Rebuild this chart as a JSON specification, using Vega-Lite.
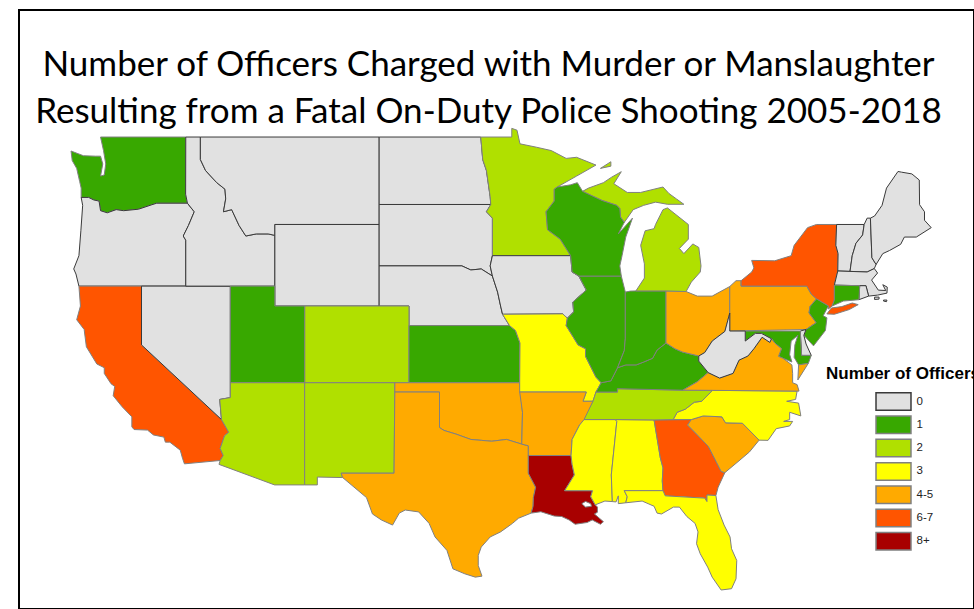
{"$schema":"https://vega.github.io/schema/vega-lite/v6.json","width":955,"height":599,"autosize":{"type":"none"},"padding":{"left":19,"top":10,"right":0,"bottom":0},"background":"white","view":{"stroke":"#000000","strokeWidth":2,"fill":"white"},
"title":{"text":["Number of Officers Charged with Murder or Manslaughter","Resulting from a Fatal On-Duty Police Shooting 2005-2018"],"font":"Lato","fontSize":35,"fontWeight":"normal","color":"#000000","lineHeight":47,"anchor":"middle","frame":"group","orient":"top","offset":0,"dx":-8,"dy":119.5},
"projection":{"type":"mercator","scale":853.7,"translate":[1910.5,966.9],"precision":0},
"mark":{"type":"geoshape","strokeWidth":1},
"encoding":{"color":{"field":"properties.officers","type":"nominal","scale":{"domain":["0","1","2","3","4-5","6-7","8+"],"range":["#E1E1E1","#38A800","#B0E000","#FFFF00","#FFAA00","#FF5500","#A80000"]},"legend":{"title":"Number of Officers","orient":"none","legendX":807,"legendY":356,"titleFont":"Liberation Sans","titleFontSize":17,"titleFontWeight":"bold","titleColor":"#000000","titleLimit":300,"titlePadding":9,"labelFont":"Liberation Sans","labelFontSize":11.5,"labelColor":"#222222","symbolType":"M-2,-1H2V1H-2Z","symbolSize":306,"symbolOffset":58,"labelOffset":13.5,"rowPadding":-1.7,"symbolStrokeWidth":1.5,"symbolOpacity":1}},"stroke":{"field":"properties.officers","type":"nominal","scale":{"domain":["0","1","2","3","4-5","6-7","8+"],"range":["#3a3a3a","#808080","#808080","#808080","#808080","#808080","#808080"]},"legend":{"title":"Number of Officers"}}},
"data":{"values":[
{"type":"Feature","properties":{"name":"Washington","officers":"1"},"geometry":{"type":"Polygon","coordinates":[[[-124.73,48.38],[-123.9,48.17],[-123.1,48.15],[-122.75,48.15],[-122.6,47.8],[-122.75,47.25],[-122.5,47.3],[-122.4,47.8],[-122.55,48.4],[-122.75,49],[-117.03,49],[-117.04,46.42],[-116.92,46],[-118.98,46],[-119.3,45.93],[-120.2,45.72],[-121.2,45.65],[-121.7,45.7],[-122.3,45.55],[-122.75,45.65],[-122.85,46.1],[-123.2,46.15],[-123.55,46.27],[-124.05,46.27],[-124.05,46.7],[-124.15,47],[-124.35,47.6],[-124.65,47.95],[-124.73,48.38]]]}},
{"type":"Feature","properties":{"name":"Oregon","officers":"0"},"geometry":{"type":"Polygon","coordinates":[[[-124.05,46.27],[-123.55,46.27],[-123.2,46.15],[-122.85,46.1],[-122.75,45.65],[-122.3,45.55],[-121.7,45.7],[-121.2,45.65],[-120.2,45.72],[-119.3,45.93],[-118.98,46],[-116.92,46],[-116.46,45.6],[-116.85,44.95],[-117.2,44.45],[-117.03,44.25],[-117.03,42],[-124.2,42],[-124.4,42.6],[-124.55,42.85],[-124.2,43.5],[-124.07,44.7],[-123.95,45.9],[-124.05,46.27]]]}},
{"type":"Feature","properties":{"name":"California","officers":"6-7"},"geometry":{"type":"Polygon","coordinates":[[[-124.2,42],[-120,42],[-120,39],[-114.63,35],[-114.15,34.3],[-114.43,34.1],[-114.72,33.4],[-114.52,33],[-114.72,32.72],[-117.12,32.53],[-117.25,32.85],[-117.4,33.3],[-118.1,33.75],[-118.4,33.75],[-118.5,34.03],[-119.2,34.15],[-119.6,34.42],[-120.5,34.45],[-120.65,34.6],[-120.65,35.15],[-121.3,35.7],[-121.9,36.3],[-121.8,36.8],[-122.05,36.95],[-122.5,37.5],[-122.5,37.8],[-123,38],[-123.7,38.9],[-123.85,39.8],[-124.35,40.3],[-124.1,41],[-124.2,42]]]}},
{"type":"Feature","properties":{"name":"Nevada","officers":"0"},"geometry":{"type":"Polygon","coordinates":[[[-120,42],[-114.04,42],[-114.04,36.2],[-114.75,36.1],[-114.63,35],[-120,39],[-120,42]]]}},
{"type":"Feature","properties":{"name":"Idaho","officers":"0"},"geometry":{"type":"Polygon","coordinates":[[[-117.03,49],[-116.05,49],[-116.05,48],[-115.7,47.5],[-114.95,46.95],[-114.4,46.65],[-114.35,46.2],[-114.5,45.6],[-113.95,45.7],[-113.45,44.95],[-113,44.45],[-112.3,44.55],[-111.5,44.55],[-111.05,44.48],[-111.05,42],[-117.03,42],[-117.03,44.25],[-117.2,44.45],[-116.85,44.95],[-116.46,45.6],[-116.92,46],[-117.04,46.42],[-117.03,49]]]}},
{"type":"Feature","properties":{"name":"Montana","officers":"0"},"geometry":{"type":"Polygon","coordinates":[[[-116.05,49],[-104.05,49],[-104.05,45],[-111.05,45],[-111.05,44.48],[-111.5,44.55],[-112.3,44.55],[-113,44.45],[-113.45,44.95],[-113.95,45.7],[-114.5,45.6],[-114.35,46.2],[-114.4,46.65],[-114.95,46.95],[-115.7,47.5],[-116.05,48],[-116.05,49]]]}},
{"type":"Feature","properties":{"name":"Wyoming","officers":"0"},"geometry":{"type":"Polygon","coordinates":[[[-111.05,45],[-104.05,45],[-104.05,41],[-111.05,41],[-111.05,45]]]}},
{"type":"Feature","properties":{"name":"North Dakota","officers":"0"},"geometry":{"type":"Polygon","coordinates":[[[-104.05,49],[-97.23,49],[-97.1,48],[-96.85,47.5],[-96.6,46.3],[-96.56,45.94],[-104.05,45.94],[-104.05,49]]]}},
{"type":"Feature","properties":{"name":"South Dakota","officers":"0"},"geometry":{"type":"Polygon","coordinates":[[[-104.05,45.94],[-96.56,45.94],[-96.85,45.6],[-96.45,45.3],[-96.45,43.5],[-96.6,43],[-96.45,42.5],[-97.2,42.85],[-97.9,42.8],[-98.5,43],[-104.05,43],[-104.05,45.94]]]}},
{"type":"Feature","properties":{"name":"Nebraska","officers":"0"},"geometry":{"type":"Polygon","coordinates":[[[-104.05,43],[-98.5,43],[-97.9,42.8],[-97.2,42.85],[-96.45,42.5],[-96.1,41.7],[-95.9,41],[-95.77,40.58],[-95.3,40],[-102.05,40],[-102.05,41],[-104.05,41],[-104.05,43]]]}},
{"type":"Feature","properties":{"name":"Colorado","officers":"2"},"geometry":{"type":"Polygon","coordinates":[[[-109.05,41],[-102.05,41],[-102.05,37],[-109.05,37],[-109.05,41]]]}},
{"type":"Feature","properties":{"name":"Utah","officers":"1"},"geometry":{"type":"Polygon","coordinates":[[[-114.04,42],[-111.05,42],[-111.05,41],[-109.05,41],[-109.05,37],[-114.04,37],[-114.04,42]]]}},
{"type":"Feature","properties":{"name":"Arizona","officers":"2"},"geometry":{"type":"Polygon","coordinates":[[[-114.04,37],[-109.05,37],[-109.05,31.33],[-111.07,31.33],[-114.8,32.5],[-114.72,32.72],[-114.52,33],[-114.72,33.4],[-114.43,34.1],[-114.15,34.3],[-114.63,35],[-114.75,36.1],[-114.04,36.2],[-114.04,37]]]}},
{"type":"Feature","properties":{"name":"New Mexico","officers":"2"},"geometry":{"type":"Polygon","coordinates":[[[-109.05,37],[-103,37],[-103.05,32],[-106.6,32],[-106.5,31.75],[-108.2,31.78],[-108.2,31.33],[-109.05,31.33],[-109.05,37]]]}},
{"type":"Feature","properties":{"name":"Kansas","officers":"1"},"geometry":{"type":"Polygon","coordinates":[[[-102.05,40],[-95.3,40],[-94.9,39.75],[-94.6,39.1],[-94.62,37],[-102.05,37],[-102.05,40]]]}},
{"type":"Feature","properties":{"name":"Oklahoma","officers":"4-5"},"geometry":{"type":"Polygon","coordinates":[[[-103,37],[-94.62,37],[-94.43,35.4],[-94.48,33.64],[-95.5,33.9],[-96.5,33.8],[-97.2,33.85],[-97.9,33.9],[-98.9,34.2],[-99.7,34.4],[-100,34.56],[-100,36.5],[-103,36.5],[-103,37]]]}},
{"type":"Feature","properties":{"name":"Texas","officers":"4-5"},"geometry":{"type":"Polygon","coordinates":[[[-103,36.5],[-100,36.5],[-100,34.56],[-99.7,34.4],[-98.9,34.2],[-97.9,33.9],[-97.2,33.85],[-96.5,33.8],[-95.5,33.9],[-94.48,33.64],[-94.04,33.55],[-94.04,33],[-94.04,32],[-93.55,31.2],[-93.7,30.6],[-93.72,30.1],[-93.85,29.7],[-94.7,29.4],[-95.1,29.1],[-95.9,28.6],[-96.6,28.3],[-97.2,27.7],[-97.4,27.2],[-97.4,26.6],[-97.15,25.96],[-97.6,25.9],[-98.3,26.1],[-99.1,26.4],[-99.5,27.5],[-100.3,28.3],[-100.7,29.1],[-101.4,29.77],[-102.3,29.88],[-102.7,29.7],[-103.15,29],[-103.9,29.3],[-104.5,29.65],[-104.9,30.6],[-106.5,31.75],[-106.6,32],[-103.05,32],[-103,36.5]]]}},
{"type":"Feature","properties":{"name":"Minnesota","officers":"2"},"geometry":{"type":"Polygon","coordinates":[[[-97.23,49],[-95.15,49],[-95.15,49.38],[-94.8,49.3],[-94.6,48.7],[-93.5,48.55],[-92.5,48.4],[-91.5,48.05],[-90.8,48.1],[-89.5,47.75],[-90.8,47.25],[-92.1,46.75],[-92.3,46.65],[-92.3,46.1],[-92.85,45.6],[-92.75,44.75],[-91.9,44.3],[-91.2,43.5],[-96.45,43.5],[-96.45,45.3],[-96.85,45.6],[-96.56,45.94],[-96.6,46.3],[-96.85,47.5],[-97.1,48],[-97.23,49]]]}},
{"type":"Feature","properties":{"name":"Iowa","officers":"0"},"geometry":{"type":"Polygon","coordinates":[[[-96.45,43.5],[-91.2,43.5],[-91.1,42.7],[-90.65,42.5],[-90.15,41.8],[-91.05,41.2],[-91,40.7],[-91.42,40.38],[-91.73,40.6],[-95.77,40.58],[-95.9,41],[-96.1,41.7],[-96.45,42.5],[-96.6,43],[-96.45,43.5]]]}},
{"type":"Feature","properties":{"name":"Missouri","officers":"3"},"geometry":{"type":"Polygon","coordinates":[[[-95.77,40.58],[-91.73,40.6],[-91.42,40.38],[-91.5,40],[-90.7,39],[-90.2,38.8],[-90.2,38.4],[-89.5,37.3],[-89.15,37],[-89.5,36.5],[-89.7,36],[-90.37,36],[-90.15,36.5],[-94.62,36.5],[-94.62,37],[-94.6,39.1],[-94.9,39.75],[-95.3,40],[-95.77,40.58]]]}},
{"type":"Feature","properties":{"name":"Arkansas","officers":"4-5"},"geometry":{"type":"Polygon","coordinates":[[[-94.62,36.5],[-90.15,36.5],[-90.37,36],[-89.7,36],[-90.1,35.1],[-90.6,34.7],[-91.1,33.9],[-91.17,33],[-94.04,33],[-94.04,33.55],[-94.48,33.64],[-94.43,35.4],[-94.62,36.5]]]}},
{"type":"Feature","properties":{"name":"Louisiana","officers":"8+"},"geometry":{"type":"Polygon","coordinates":[[[-94.04,33],[-91.17,33],[-91.1,32.5],[-90.95,31.9],[-91.6,31],[-89.73,31],[-89.85,30.65],[-89.55,30.18],[-89.4,30.05],[-89.4,29.75],[-89.6,29.65],[-89,29.2],[-89.2,29.05],[-89.75,29.3],[-90.1,29.15],[-90.9,29.05],[-91.3,29.3],[-91.8,29.5],[-92.3,29.53],[-93.2,29.78],[-93.85,29.7],[-93.72,30.1],[-93.7,30.6],[-93.55,31.2],[-94.04,32],[-94.04,33]],[[-90.45,30.25],[-90.2,30.05],[-89.8,30.1],[-89.85,30.25],[-90.2,30.38],[-90.45,30.25]]]}},
{"type":"Feature","properties":{"name":"Mississippi","officers":"3"},"geometry":{"type":"Polygon","coordinates":[[[-90.3,35],[-88.2,35],[-88.1,34.9],[-88.47,31.9],[-88.4,30.37],[-88.9,30.4],[-89.55,30.18],[-89.85,30.65],[-89.73,31],[-91.6,31],[-90.95,31.9],[-91.1,32.5],[-91.17,33],[-91.1,33.9],[-90.6,34.7],[-90.3,35]]]}},
{"type":"Feature","properties":{"name":"Alabama","officers":"3"},"geometry":{"type":"Polygon","coordinates":[[[-88.2,35],[-85.6,34.98],[-85.18,32.87],[-85,32.3],[-85.05,31.55],[-85,31],[-87.6,31],[-87.4,30.65],[-87.5,30.3],[-88,30.25],[-88,30.7],[-88.15,30.35],[-88.4,30.37],[-88.47,31.9],[-88.1,34.9],[-88.2,35]]]}},
{"type":"Feature","properties":{"name":"Georgia","officers":"6-7"},"geometry":{"type":"Polygon","coordinates":[[[-85.6,34.98],[-83.1,35],[-83.35,34.7],[-82.75,34.2],[-81.95,33.5],[-81.4,32.6],[-81.1,32.1],[-80.85,32.03],[-81.3,31.2],[-81.45,30.72],[-82.05,30.75],[-82.05,30.37],[-82.2,30.57],[-84.85,30.7],[-85,31],[-85.05,31.55],[-85,32.3],[-85.18,32.87],[-85.6,34.98]]]}},
{"type":"Feature","properties":{"name":"Florida","officers":"3"},"geometry":{"type":"Polygon","coordinates":[[[-87.6,31],[-85,31],[-84.85,30.7],[-82.2,30.57],[-82.05,30.37],[-82.05,30.75],[-81.45,30.72],[-81.3,29.9],[-80.9,29],[-80.5,28.3],[-80.4,27.6],[-80.05,26.9],[-80.1,25.8],[-80.4,25.2],[-81.1,25.12],[-81.7,25.9],[-82,26.5],[-82.5,27.3],[-82.75,27.9],[-82.65,28.6],[-82.85,29.1],[-83.4,29.5],[-83.9,30.05],[-84.3,30.05],[-85.1,29.65],[-85.4,29.7],[-85.6,30.1],[-86.4,30.4],[-87.5,30.3],[-87.4,30.65],[-87.6,31]]]}},
{"type":"Feature","properties":{"name":"South Carolina","officers":"4-5"},"geometry":{"type":"Polygon","coordinates":[[[-83.1,35],[-82.3,35.2],[-81.05,35.15],[-80.8,34.82],[-79.67,34.8],[-78.55,33.86],[-79.2,33.2],[-79.9,32.7],[-80.85,32.03],[-81.1,32.1],[-81.4,32.6],[-81.95,33.5],[-82.75,34.2],[-83.35,34.7],[-83.1,35]]]}},
{"type":"Feature","properties":{"name":"North Carolina","officers":"3"},"geometry":{"type":"Polygon","coordinates":[[[-81.68,36.59],[-76,36.55],[-76.1,36.1],[-76.7,36],[-75.9,35.9],[-75.75,35.2],[-76.5,35.4],[-76.5,35],[-76.9,34.9],[-76.3,34.9],[-76.5,34.65],[-77.4,34.5],[-77.95,33.85],[-78.55,33.86],[-79.67,34.8],[-80.8,34.82],[-81.05,35.15],[-82.3,35.2],[-83.1,35],[-84.32,35],[-84.05,35.4],[-83.5,35.57],[-82.9,35.95],[-82.4,36],[-81.68,36.59]]]}},
{"type":"Feature","properties":{"name":"Tennessee","officers":"2"},"geometry":{"type":"Polygon","coordinates":[[[-90.3,35],[-89.7,36],[-89.5,36.5],[-88.05,36.5],[-88.07,36.68],[-83.68,36.6],[-81.68,36.59],[-82.4,36],[-82.9,35.95],[-83.5,35.57],[-84.05,35.4],[-84.32,35],[-85.6,34.98],[-88.2,35],[-90.3,35]]]}},
{"type":"Feature","properties":{"name":"Kentucky","officers":"1"},"geometry":{"type":"Polygon","coordinates":[[[-89.15,37],[-88.5,37.1],[-88.05,37.8],[-87.5,37.95],[-86.8,37.95],[-86.3,38.1],[-85.7,38.3],[-85.4,38.73],[-84.8,39.1],[-84.2,38.8],[-83.7,38.63],[-82.6,38.42],[-82.6,38.15],[-81.97,37.54],[-82.7,37.05],[-83.68,36.6],[-88.07,36.68],[-88.05,36.5],[-89.5,36.5],[-89.15,37]]]}},
{"type":"Feature","properties":{"name":"Illinois","officers":"1"},"geometry":{"type":"Polygon","coordinates":[[[-90.65,42.5],[-87.8,42.5],[-87.53,41.7],[-87.53,39.35],[-87.6,38.7],[-88.05,37.8],[-88.5,37.1],[-89.15,37],[-89.5,37.3],[-90.2,38.4],[-90.2,38.8],[-90.7,39],[-91.5,40],[-91.42,40.38],[-91,40.7],[-91.05,41.2],[-90.15,41.8],[-90.65,42.5]]]}},
{"type":"Feature","properties":{"name":"Indiana","officers":"1"},"geometry":{"type":"Polygon","coordinates":[[[-87.53,41.7],[-87.2,41.75],[-86.82,41.76],[-84.8,41.76],[-84.8,39.1],[-85.4,38.73],[-85.7,38.3],[-86.3,38.1],[-86.8,37.95],[-87.5,37.95],[-88.05,37.8],[-87.6,38.7],[-87.53,39.35],[-87.53,41.7]]]}},
{"type":"Feature","properties":{"name":"Ohio","officers":"4-5"},"geometry":{"type":"Polygon","coordinates":[[[-84.8,41.76],[-83.45,41.73],[-82.7,41.5],[-81.7,41.5],[-80.52,41.98],[-80.52,40.64],[-80.85,39.7],[-81.7,39.2],[-82.2,38.6],[-82.6,38.42],[-83.7,38.63],[-84.2,38.8],[-84.8,39.1],[-84.8,41.76]]]}},
{"type":"Feature","properties":{"name":"Michigan","officers":"2"},"geometry":{"type":"MultiPolygon","coordinates":[[[[-86.82,41.76],[-86.25,42.4],[-86.25,43.1],[-86.5,44],[-86.2,44.7],[-85.6,44.8],[-85.5,45],[-85,45.7],[-84.7,45.78],[-83.3,45],[-83.3,44.3],[-83.9,43.85],[-83.6,43.6],[-83,44.07],[-82.6,43.9],[-82.45,43],[-82.5,42.7],[-83.1,42.2],[-83.45,41.73],[-84.8,41.76],[-86.82,41.76]]],[[[-90.4,46.55],[-90,46.7],[-89,46.95],[-88.45,47.2],[-87.8,47.45],[-88.3,46.9],[-87.4,46.5],[-86.5,46.5],[-85,46.75],[-84.6,46.45],[-84.1,46.2],[-83.6,45.95],[-84.7,45.95],[-85.5,46.05],[-86.3,45.9],[-87,45.7],[-87.6,45.1],[-87.85,45.35],[-87.9,45.75],[-88.1,45.9],[-89.1,46.13],[-90.4,46.55]]],[[[-89.2,47.6],[-88.5,47.9],[-88.5,47.7],[-89.2,47.6]]]]}},
{"type":"Feature","properties":{"name":"Wisconsin","officers":"1"},"geometry":{"type":"Polygon","coordinates":[[[-92.1,46.75],[-91.2,46.85],[-90.75,46.95],[-90.4,46.55],[-89.1,46.13],[-88.1,45.9],[-87.9,45.75],[-87.85,45.35],[-87.6,45.1],[-88,44.55],[-87.05,45.3],[-87.5,44.4],[-87.75,43.5],[-87.9,43],[-87.8,42.5],[-90.65,42.5],[-91.1,42.7],[-91.2,43.5],[-91.9,44.3],[-92.75,44.75],[-92.85,45.6],[-92.3,46.1],[-92.3,46.65],[-92.1,46.75]]]}},
{"type":"Feature","properties":{"name":"Pennsylvania","officers":"4-5"},"geometry":{"type":"Polygon","coordinates":[[[-80.52,41.98],[-80.1,42.27],[-79.76,42.27],[-79.76,42],[-75.35,42],[-75.05,41.6],[-74.7,41.36],[-75.13,40.98],[-75.2,40.65],[-74.72,40.15],[-75.4,39.8],[-80.52,39.72],[-80.52,41.98]]]}},
{"type":"Feature","properties":{"name":"New York","officers":"6-7"},"geometry":{"type":"MultiPolygon","coordinates":[[[[-79.76,42.27],[-79.05,42.7],[-78.9,42.9],[-79.05,43.27],[-77.5,43.25],[-76.4,43.5],[-76.2,44],[-75.3,44.85],[-74.7,45],[-73.35,45],[-73.4,44],[-73.25,43.6],[-73.27,42.75],[-73.5,42.05],[-73.5,41.3],[-73.65,41],[-73.9,40.85],[-73.9,41],[-74.7,41.36],[-75.05,41.6],[-75.35,42],[-79.76,42],[-79.76,42.27]]],[[[-74,40.6],[-73.7,40.9],[-73,40.97],[-72.3,41.15],[-71.9,41.07],[-72.5,40.82],[-73.5,40.58],[-74,40.6]]]]}},
{"type":"Feature","properties":{"name":"Vermont","officers":"0"},"geometry":{"type":"Polygon","coordinates":[[[-73.35,45],[-71.5,45],[-71.6,44.5],[-72.05,44.1],[-72.3,43.5],[-72.45,42.73],[-73.27,42.75],[-73.25,43.6],[-73.4,44],[-73.35,45]]]}},
{"type":"Feature","properties":{"name":"New Hampshire","officers":"0"},"geometry":{"type":"Polygon","coordinates":[[[-71.5,45],[-71.3,45.3],[-71.08,45.3],[-70.98,43.4],[-70.7,43.07],[-70.82,42.87],[-71.3,42.7],[-72.45,42.73],[-72.3,43.5],[-72.05,44.1],[-71.6,44.5],[-71.5,45]]]}},
{"type":"Feature","properties":{"name":"Maine","officers":"0"},"geometry":{"type":"Polygon","coordinates":[[[-71.08,45.3],[-70.8,45.4],[-70.3,45.9],[-70,46.7],[-69.23,47.46],[-69,47.43],[-68.3,47.35],[-67.8,47.07],[-67.78,45.93],[-67.45,45.6],[-67.45,45.2],[-67,44.85],[-68,44.4],[-68.8,44.4],[-69.05,44.05],[-69.8,43.75],[-70.25,43.6],[-70.7,43.07],[-70.98,43.4],[-71.08,45.3]]]}},
{"type":"Feature","properties":{"name":"Massachusetts","officers":"0"},"geometry":{"type":"MultiPolygon","coordinates":[[[[-73.27,42.75],[-72.45,42.73],[-71.3,42.7],[-70.82,42.87],[-70.6,42.65],[-71,42.3],[-70.55,41.8],[-70.05,41.78],[-70.25,42.07],[-69.95,41.95],[-69.97,41.65],[-70.6,41.55],[-71.2,41.5],[-71.38,42.02],[-71.8,42.02],[-73.5,42.05],[-73.27,42.75]]],[[[-70.8,41.45],[-70.5,41.45],[-70.5,41.35],[-70.8,41.33],[-70.8,41.45]]],[[[-70.2,41.3],[-69.97,41.3],[-70,41.22],[-70.2,41.25],[-70.2,41.3]]]]}},
{"type":"Feature","properties":{"name":"Rhode Island","officers":"0"},"geometry":{"type":"Polygon","coordinates":[[[-71.8,42.02],[-71.38,42.02],[-71.2,41.5],[-71.85,41.32],[-71.8,42.02]]]}},
{"type":"Feature","properties":{"name":"Connecticut","officers":"1"},"geometry":{"type":"Polygon","coordinates":[[[-73.5,42.05],[-71.8,42.02],[-71.85,41.32],[-72.9,41.25],[-73.65,41],[-73.5,41.3],[-73.5,42.05]]]}},
{"type":"Feature","properties":{"name":"New Jersey","officers":"1"},"geometry":{"type":"Polygon","coordinates":[[[-74.7,41.36],[-73.9,41],[-74.25,40.5],[-74,40.4],[-74.1,39.75],[-74.9,38.95],[-75.55,39.5],[-75.4,39.8],[-74.72,40.15],[-75.2,40.65],[-75.13,40.98],[-74.7,41.36]]]}},
{"type":"Feature","properties":{"name":"Delaware","officers":"0"},"geometry":{"type":"Polygon","coordinates":[[[-75.79,39.72],[-75.4,39.8],[-75.55,39.5],[-75.4,39.05],[-75.05,38.45],[-75.7,38.45],[-75.79,39.72]]]}},
{"type":"Feature","properties":{"name":"Maryland","officers":"1"},"geometry":{"type":"Polygon","coordinates":[[[-79.48,39.72],[-75.79,39.72],[-75.7,38.45],[-75.05,38.45],[-75.25,38.03],[-75.9,37.95],[-76.2,38.35],[-76.15,39],[-75.95,39.5],[-76.4,39.2],[-76.5,38.5],[-76.35,38.1],[-76.95,38.3],[-77.25,38.4],[-77.05,38.8],[-77.5,39.1],[-77.72,39.32],[-78.4,39.6],[-78.8,39.6],[-79.48,39.2],[-79.48,39.72]]]}},
{"type":"Feature","properties":{"name":"Virginia","officers":"4-5"},"geometry":{"type":"MultiPolygon","coordinates":[[[[-83.68,36.6],[-82.7,37.05],[-81.97,37.54],[-81.2,37.25],[-80.3,37.5],[-79.9,38.2],[-79.3,38.42],[-78.9,38.8],[-78.35,39.4],[-77.83,39.13],[-77.72,39.32],[-77.5,39.1],[-77.05,38.8],[-77.25,38.4],[-76.95,38.3],[-76.35,37.95],[-76.3,37.5],[-76.3,37],[-76,36.9],[-75.87,36.55],[-81.68,36.59],[-83.68,36.6]]],[[[-75.9,37.95],[-75.25,38.03],[-75.95,37.15],[-75.9,37.95]]]]}},
{"type":"Feature","properties":{"name":"West Virginia","officers":"0"},"geometry":{"type":"Polygon","coordinates":[[[-80.52,40.64],[-80.52,39.72],[-79.48,39.72],[-79.48,39.2],[-78.8,39.6],[-78.4,39.6],[-77.72,39.32],[-77.83,39.13],[-78.35,39.4],[-78.9,38.8],[-79.3,38.42],[-79.9,38.2],[-80.3,37.5],[-81.2,37.25],[-81.97,37.54],[-82.6,38.15],[-82.6,38.42],[-82.2,38.6],[-81.7,39.2],[-80.85,39.7],[-80.52,40.64]]]}}
]}}
